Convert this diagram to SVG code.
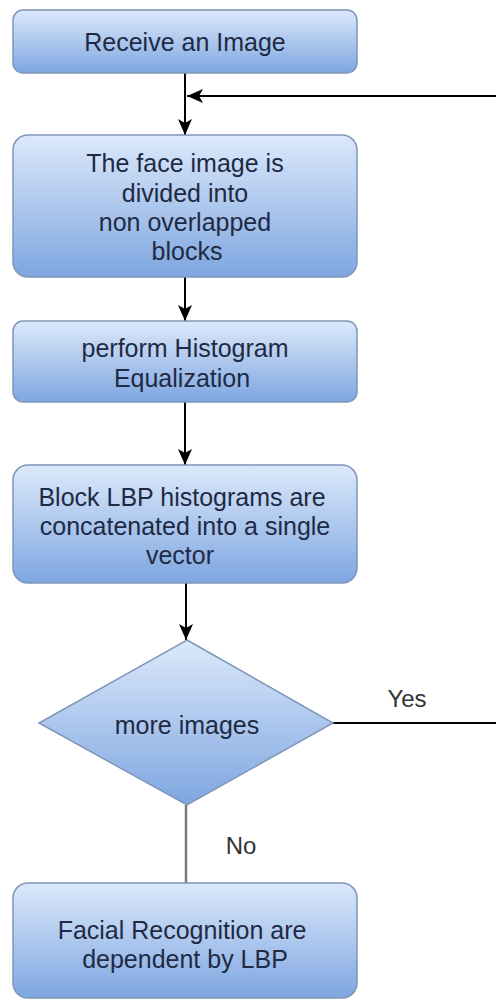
<svg xmlns="http://www.w3.org/2000/svg" width="496" height="1000" viewBox="0 0 496 1000">
  <style>
    .box { fill: url(#blueGrad); stroke: #7f96b8; stroke-width: 1.5; }
    .lbl { font-family: "Liberation Sans", Arial, sans-serif; font-size: 25px; fill: #1f2a44; text-anchor: middle; dominant-baseline: central; }
    .edge { font-family: "Liberation Sans", Arial, sans-serif; font-size: 24px; fill: #333333; text-anchor: middle; dominant-baseline: central; }
    .conn { stroke: #000000; stroke-width: 2; fill: none; }
    .connGray { stroke: #7a7a7a; stroke-width: 2.5; fill: none; }
  </style>
  <defs>
    <linearGradient id="blueGrad" x1="0" y1="0" x2="0" y2="1">
      <stop offset="0" stop-color="#dce9fb"/>
      <stop offset="1" stop-color="#7ea6e0"/>
    </linearGradient>
    <marker id="arrow" markerUnits="userSpaceOnUse" markerWidth="18" markerHeight="16" refX="16" refY="7" orient="auto">
      <path d="M0,0 L16,7 L0,14 L4,7 z" fill="#000000"/>
    </marker>
  </defs>
  <rect width="496" height="1000" fill="#ffffff"/>

  <g id="connectors">
    <line class="conn" x1="185" y1="73" x2="185" y2="135" marker-end="url(#arrow)"/>
    <line class="conn" x1="496" y1="96" x2="187" y2="96" marker-end="url(#arrow)"/>
    <line class="conn" x1="185" y1="277" x2="185" y2="321" marker-end="url(#arrow)"/>
    <line class="conn" x1="185" y1="402" x2="185" y2="465" marker-end="url(#arrow)"/>
    <line class="conn" x1="186" y1="583" x2="186" y2="640" marker-end="url(#arrow)"/>
    <line class="conn" x1="333" y1="723" x2="496" y2="723"/>
    <line class="connGray" x1="186" y1="805" x2="186" y2="883"/>
    <text class="edge" x="407" y="698">Yes</text>
    <text class="edge" x="241" y="845">No</text>
  </g>

  <g id="receive">
    <rect class="box" x="13" y="10" width="344" height="63" rx="10"/>
    <text class="lbl" x="185" y="42">Receive an Image</text>
  </g>

  <g id="divide">
    <rect class="box" x="13" y="135" width="344" height="142" rx="15"/>
    <text class="lbl" x="185" y="163">The face image is</text>
    <text class="lbl" x="185" y="193">divided into</text>
    <text class="lbl" x="185" y="222">non overlapped</text>
    <text class="lbl" x="187" y="251">blocks</text>
  </g>

  <g id="equalize">
    <rect class="box" x="13" y="321" width="344" height="81" rx="10"/>
    <text class="lbl" x="185" y="348">perform Histogram</text>
    <text class="lbl" x="182" y="378">Equalization</text>
  </g>

  <g id="concat">
    <rect class="box" x="13" y="465" width="344" height="118" rx="15"/>
    <text class="lbl" x="182" y="497">Block LBP histograms are</text>
    <text class="lbl" x="185" y="526">concatenated into a single</text>
    <text class="lbl" x="180" y="555">vector</text>
  </g>

  <g id="decision">
    <polygon class="box" points="187,640 333,723 187,805 39,723"/>
    <text class="lbl" x="187" y="725">more images</text>
  </g>

  <g id="result">
    <rect class="box" x="13" y="883" width="344" height="115" rx="15"/>
    <text class="lbl" x="182" y="930">Facial Recognition are</text>
    <text class="lbl" x="185" y="959">dependent by LBP</text>
  </g>
</svg>
